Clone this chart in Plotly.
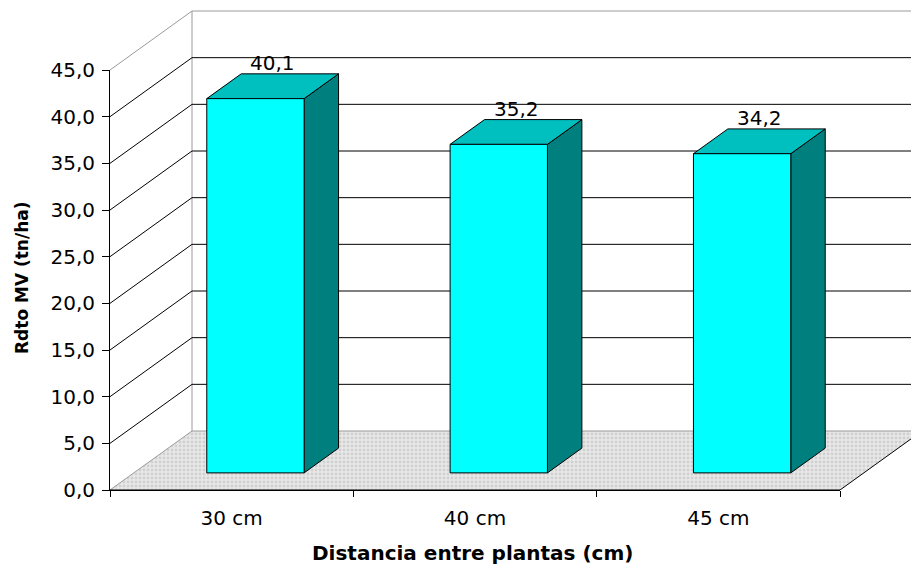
import plotly.graph_objects as go

# ---- data -------------------------------------------------------------
categories = ["30 cm", "40 cm", "45 cm"]
rdto_mv = [40.1, 35.2, 34.2]
y_ticks = [0, 5, 10, 15, 20, 25, 30, 35, 40, 45]

x_title = "Distancia entre plantas (cm)"
y_title = "Rdto MV (tn/ha)"

# ---- geometry of the oblique (pseudo 3-D) projection --------------------
W, H = 911, 567
M_L, M_B = 110, 77
plot_w, plot_h = W - M_L, H - M_B

n = len(categories)
x_lo, x_end = -0.5, n - 0.5
y_top = y_ticks[-1]

px_x = 730 / n                 # pixels per category
px_y = 420 / y_top             # pixels per t/ha
DEPTH_X = 82 / px_x            # depth offset of the back wall (x units)
DEPTH_Y = 59 / px_y            # depth offset of the back wall (y units)
F_FRONT, F_BACK = 0.29, 0.71   # bar front / back planes as depth fraction
HALF_W = 0.2                   # half width of a bar front

x_hi = x_lo + plot_w / px_x
y_hi = plot_h / px_y
x_far = x_hi + 1

FONT = "DejaVu Sans"
GRAY = "#9a9a9a"

traces = []


def poly(xs, ys, fill=None, line_color="black", width=1, pattern=None):
    kw = dict(x=xs, y=ys, mode="lines", xaxis="x2", yaxis="y2",
              line=dict(color=line_color, width=width),
              hoverinfo="skip", showlegend=False)
    if fill is not None:
        kw.update(fill="toself", fillcolor=fill)
        if pattern is not None:
            kw["fillpattern"] = pattern
    return go.Scatter(**kw)


# floor
floor_x = [x_lo, x_end, x_end + DEPTH_X, x_lo + DEPTH_X, x_lo]
floor_y = [0, 0, DEPTH_Y, DEPTH_Y, 0]
traces.append(poly(floor_x, floor_y, fill="#e2e2e2", width=0,
                   pattern=dict(shape=".", fgcolor="#b8b8b8", bgcolor="#e8e8e8",
                                size=4, solidity=0.4)))

# light frame of the walls
gx, gy = [], []
bx, by = x_lo + DEPTH_X, DEPTH_Y
for seg in (
    ([x_lo, bx], [y_top, y_top + by]),             # top of side wall
    ([bx, x_far], [y_top + by, y_top + by]),        # top of back wall
    ([bx, bx], [by, y_top + by]),                   # back corner
    ([x_lo, bx], [0, by]),                          # floor, left edge
    ([bx, x_far], [by, by]),                        # floor, back edge
):
    gx += seg[0] + [None]
    gy += seg[1] + [None]
traces.append(poly(gx, gy, line_color=GRAY))

# gridlines: across the side wall and along the back wall
kx, ky = [], []
for v in y_ticks[1:-1]:
    kx += [x_lo, bx, x_far, None]
    ky += [v, v + by, v + by, None]
# floor front and right edges
kx += [x_lo, x_end, x_end + DEPTH_X, None]
ky += [0, 0, DEPTH_Y, None]
traces.append(poly(kx, ky, line_color="black"))

# bars: side, top and front faces
ddx = (F_BACK - F_FRONT) * DEPTH_X
ddy = (F_BACK - F_FRONT) * DEPTH_Y
annotations = []
for i, v in enumerate(rdto_mv):
    x0 = i - HALF_W + F_FRONT * DEPTH_X
    x1 = i + HALF_W + F_FRONT * DEPTH_X
    y0 = F_FRONT * DEPTH_Y
    y1 = v + F_FRONT * DEPTH_Y
    traces.append(poly([x1, x1 + ddx, x1 + ddx, x1, x1],
                       [y0, y0 + ddy, y1 + ddy, y1, y0], fill="#007f7f"))
    traces.append(poly([x0, x1, x1 + ddx, x0 + ddx, x0],
                       [y1, y1, y1 + ddy, y1 + ddy, y1], fill="#00bfbf"))
    traces.append(poly([x0, x1, x1, x0, x0],
                       [y0, y0, y1, y1, y0], fill="#00ffff"))
    annotations.append(dict(
        x=i + 0.5 * DEPTH_X, y=v + F_BACK * DEPTH_Y, xref="x2", yref="y2",
        text=f"{v:.1f}".replace(".", ","), showarrow=False,
        xanchor="center", yanchor="middle", yshift=11,
        font=dict(family=FONT, size=20, color="black")))

# empty trace so the tick axes get their own subplot
traces.insert(0, go.Scatter(x=[], y=[], xaxis="x", yaxis="y",
                            showlegend=False, hoverinfo="skip"))

annotations += [
    dict(x=(472 - M_L) / plot_w, y=-(553 - plot_h) / plot_h,
         xref="paper", yref="paper", text=x_title, showarrow=False,
         xanchor="center", yanchor="middle",
         font=dict(family=FONT, size=20, color="black", weight="bold")),
    dict(x=(22 - M_L) / plot_w, y=(plot_h - 278) / plot_h,
         xref="paper", yref="paper", text=y_title, showarrow=False,
         textangle=-90, xanchor="center", yanchor="middle",
         font=dict(family=FONT, size=17, color="black", weight="bold")),
]

fig = go.Figure(traces)
fig.update_layout(
    width=W, height=H,
    margin=dict(l=M_L, r=0, t=0, b=M_B, pad=0, autoexpand=False),
    paper_bgcolor="white", plot_bgcolor="rgba(0,0,0,0)",
    separators=",.",
    hovermode=False,
    showlegend=False,
    annotations=annotations,
    xaxis=dict(
        domain=[0, (x_end - x_lo) * px_x / plot_w], range=[x_lo, x_end],
        anchor="y", showline=True, linecolor="black", linewidth=1,
        showgrid=False, zeroline=False, automargin=False,
        tickmode="array", tickvals=list(range(n)), ticktext=categories,
        ticks="", ticklabelstandoff=10,
        minor=dict(tickmode="array", tickvals=[k - 0.5 for k in range(n + 1)],
                   ticks="outside", ticklen=6, tickcolor="black", showgrid=False),
        tickfont=dict(family=FONT, size=20, color="black"),
        fixedrange=True,
    ),
    yaxis=dict(
        domain=[0, y_top * px_y / plot_h], range=[0, y_top],
        anchor="x", showline=True, linecolor="black", linewidth=1,
        showgrid=False, zeroline=False, automargin=False,
        tickmode="array", tickvals=y_ticks, tickformat=".1f",
        ticks="outside", ticklen=7, tickcolor="black", ticklabelstandoff=3,
        tickfont=dict(family=FONT, size=20, color="black"),
        fixedrange=True,
    ),
    xaxis2=dict(domain=[0, 1], range=[x_lo, x_hi], anchor="y2",
                visible=False, fixedrange=True, automargin=False),
    yaxis2=dict(domain=[0, 1], range=[0, y_hi], anchor="x2",
                visible=False, fixedrange=True, automargin=False),
)

fig.write_html("out.html")
